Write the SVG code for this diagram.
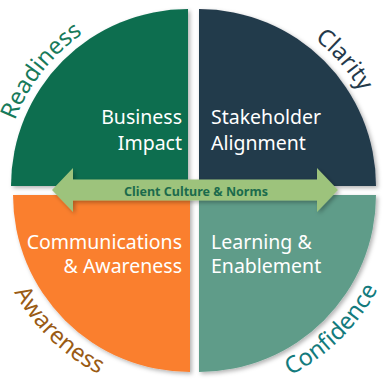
<svg xmlns="http://www.w3.org/2000/svg" width="389" height="384" viewBox="0 0 389 384">
<defs>
<style>
.lbl{font-family:"Noto Sans","Open Sans","Liberation Sans",sans-serif;font-size:19.5px;fill:#ffffff}
.arc{font-family:"Noto Sans","Open Sans","Liberation Sans",sans-serif;font-size:23.5px}
.mid{font-family:"Noto Sans","Open Sans","Liberation Sans",sans-serif;font-size:12.5px;font-weight:bold;fill:#1B6B4C}
</style>
<filter id="sh" x="-10%" y="-10%" width="130%" height="130%">
<feDropShadow dx="2" dy="2" stdDeviation="2" flood-color="#000" flood-opacity="0.3"/>
</filter>
<path id="pR" d="M5.81,153.88 A185,185 0 0 1 109.82,18.33"/>
<path id="pC" d="M269.05,12.61 A187,187 0 0 1 380.45,140.76"/>
<path id="pA" d="M1.12,263.75 A201,201 0 0 0 127.89,386.17"/>
<path id="pF" d="M258.07,388.17 A202,202 0 0 0 391.12,257.42"/>
</defs>
<rect width="389" height="384" fill="#ffffff"/>
<g id="business-impact">
<path d="M188,186 L188,9 A177,177 0 0 0 11,186 Z" fill="#0B6E4F" filter="url(#sh)"/>
<text class="lbl" text-anchor="end"><tspan x="182" y="124">Business</tspan><tspan x="182" y="150">Impact</tspan></text>
</g>
<g id="stakeholder-alignment">
<path d="M199,186 L199,9 A177,177 0 0 1 376,186 Z" fill="#243A4B" filter="url(#sh)"/>
<text class="lbl"><tspan x="211" y="124">Stakeholder</tspan><tspan x="211" y="149.5">Alignment</tspan></text>
</g>
<g id="communications-awareness">
<path d="M190,195 L13,195 A177,177 0 0 0 190,372 Z" fill="#FA7F2E" filter="url(#sh)"/>
<text class="lbl" text-anchor="end"><tspan x="182" y="249">Communications</tspan><tspan x="182" y="273">&amp; Awareness</tspan></text>
</g>
<g id="learning-enablement">
<path d="M199,195 L376,195 A177,177 0 0 1 199,372 Z" fill="#5F9C89" filter="url(#sh)"/>
<text class="lbl"><tspan x="211" y="249">Learning &amp;</tspan><tspan x="211" y="273">Enablement</tspan></text>
</g>
<g id="readiness">
<text class="arc" fill="#177A5A"><textPath href="#pR" startOffset="51%" text-anchor="middle">Readiness</textPath></text>
</g>
<g id="clarity">
<text class="arc" fill="#24394A"><textPath href="#pC" startOffset="50%" text-anchor="middle">Clarity</textPath></text>
</g>
<g id="awareness">
<text class="arc" fill="#9A5B14"><textPath href="#pA" startOffset="50%" text-anchor="middle">Awareness</textPath></text>
</g>
<g id="confidence">
<text class="arc" fill="#137B7D"><textPath href="#pF" startOffset="50%" text-anchor="middle">Confidence</textPath></text>
</g>
<g id="connectors">
<polygon points="52,190 73,168 73,179.5 317,179.5 317,168 338,190 317,212 317,200.5 73,200.5 73,212" fill="#9DC37C" filter="url(#sh)"/>
<text class="mid" x="196" y="196" text-anchor="middle">Client Culture &amp; Norms</text>
</g>
</svg>
